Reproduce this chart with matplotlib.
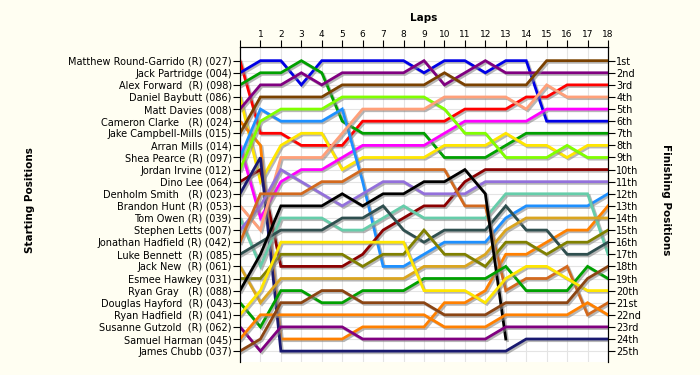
import numpy as np
import matplotlib
matplotlib.use("Agg")
import matplotlib.pyplot as plt
import matplotlib.patheffects as pe

laps = list(range(0, 19))

start_labels = [
    "Matthew Round-Garrido (R) (027)", "Jack Partridge (004)", "Alex Forward  (R) (098)",
    "Daniel Baybutt (086)", "Matt Davies (008)", "Cameron Clarke   (R) (024)",
    "Jake Campbell-Mills (015)", "Arran Mills (014)", "Shea Pearce (R) (097)",
    "Jordan Irvine (012)", "Dino Lee (064)", "Denholm Smith   (R) (023)",
    "Brandon Hunt (R) (053)", "Tom Owen (R) (039)", "Stephen Letts (007)",
    "Jonathan Hadfield (R) (042)", "Luke Bennett  (R) (085)", "Jack New  (R) (061)",
    "Esmee Hawkey (031)", "Ryan Gray   (R) (088)", "Douglas Hayford  (R) (043)",
    "Ryan Hadfield  (R) (041)", "Susanne Gutzold  (R) (062)", "Samuel Harman (045)",
    "James Chubb (037)",
]
finish_labels = ["1st", "2nd", "3rd"] + [f"{i}th" for i in range(4, 21)] + \
    ["21st", "22nd", "23rd", "24th", "25th"]

# position per lap (lap 0 = start), one list per car
red = [1, 7, 7, 8, 8, 8, 6, 6, 6, 6, 6, 5, 5, 5, 4, 4, 3, 3, 3]
blue = [2, 1, 1, 3, 1, 1, 1, 1, 1, 2, 1, 1, 2, 1, 1, 6, 6, 6, 6]
green = [3, 2, 2, 1, 2, 6, 7, 7, 7, 7, 9, 9, 9, 8, 7, 7, 7, 7, 7]
yellow = [4, 11, 8, 7, 7, 10, 9, 9, 9, 9, 8, 8, 8, 7, 8, 8, 9, 8, 8]
purple = [5, 3, 3, 2, 3, 2, 2, 2, 2, 1, 3, 2, 1, 2, 2, 2, 2, 2, 2]
orange = [6, 8, 24, 24, 24, 24, 23, 23, 23, 23, 21, 21, 20, 17, 17, 16, 15, 15, 13]
brown = [7, 4, 4, 4, 4, 3, 3, 3, 3, 3, 2, 3, 3, 3, 3, 1, 1, 1, 1]
magenta = [8, 14, 11, 10, 10, 9, 8, 8, 8, 8, 7, 6, 6, 6, 6, 5, 5, 5, 5]
dodger = [9, 5, 6, 6, 6, 5, 11, 18, 18, 17, 16, 16, 16, 14, 13, 13, 13, 13, 12]
lime = [10, 6, 5, 5, 5, 4, 4, 4, 4, 4, 5, 7, 7, 9, 9, 9, 8, 9, 9]
maroon = [11, 10, 18, 18, 18, 18, 17, 15, 14, 13, 13, 11, 10, 10, 10, 10, 10, 10, 10]
navy = [12, 9, 25, 25, 25, 25, 25, 25, 25, 25, 25, 25, 25, 25, 24, 24, 24, 24, 24]
salmon = [13, 15, 9, 9, 9, 7, 5, 5, 5, 5, 4, 4, 4, 4, 5, 3, 4, 4, 4]
aqua = [14, 18, 14, 14, 14, 15, 15, 14, 13, 14, 14, 14, 14, 12, 12, 12, 12, 12, 17]
lavender = [15, 13, 10, 11, 12, 13, 12, 11, 11, 12, 12, 12, 11, 11, 11, 11, 11, 11, 11]
choc = [16, 12, 12, 12, 11, 11, 10, 10, 10, 10, 10, 13, 13, 20, 19, 19, 18, 22, 21]
slate = [17, 16, 15, 15, 15, 14, 14, 13, 15, 16, 15, 15, 15, 13, 15, 15, 17, 17, 16]
golden = [18, 21, 19, 19, 19, 19, 19, 19, 19, 18, 18, 18, 17, 15, 14, 14, 14, 14, 14]
olive = [19, 19, 17, 17, 17, 17, 18, 17, 17, 15, 17, 17, 18, 16, 16, 17, 16, 16, 15]
black = [20, 17, 13, 13, 13, 12, 13, 12, 12, 11, 11, 10, 12, 24]
green2 = [21, 23, 20, 20, 21, 21, 20, 20, 20, 19, 19, 19, 19, 18, 20, 20, 20, 18, 19]
yellow2 = [22, 20, 16, 16, 16, 16, 16, 16, 16, 20, 20, 20, 21, 19, 18, 18, 19, 20, 20]
purple2 = [23, 25, 23, 23, 23, 23, 24, 24, 24, 24, 24, 24, 24, 23, 23, 23, 23, 23, 23]
orange2 = [24, 22, 22, 22, 22, 22, 22, 22, 22, 22, 23, 23, 23, 22, 22, 22, 22, 21, 22]
brown2 = [25, 24, 21, 21, 20, 20, 21, 21, 21, 21, 22, 22, 22, 21, 21, 21, 21, 19, 18]

series = [
    (red, "#FF0000"), (blue, "#0000E6"), (green, "#00A000"), (yellow, "#FFE600"),
    (purple, "#800080"), (orange, "#FF8000"), (brown, "#7A4100"), (magenta, "#FF00FF"),
    (dodger, "#1E90FF"), (lime, "#80FF00"), (maroon, "#8B0000"), (navy, "#191970"),
    (salmon, "#FFA07A"), (aqua, "#66CDAA"), (lavender, "#9370DB"), (choc, "#D2691E"),
    (slate, "#2F4F4F"), (golden, "#DAA520"), (olive, "#808000"), (black, "#000000"),
    (green2, "#00A000"), (yellow2, "#FFE600"), (purple2, "#800080"), (orange2, "#FF8000"),
    (brown2, "#8B4513"),
]

bg = "#FFFEF2"
fig = plt.figure(figsize=(7, 3.75), dpi=100, facecolor=bg)
ax = fig.add_axes([240 / 700, 1 - 362 / 375, 368 / 700, 315 / 375])
ax.set_facecolor("white")

shadow = [pe.SimpleLineShadow(offset=(1.2, -1.2), shadow_color="#888888", alpha=0.6),
          pe.Normal()]
for pos, col in series:
    ax.plot(laps[:len(pos)], pos, color=col, lw=2.0, solid_joinstyle="miter",
            path_effects=shadow, zorder=3)

ax.set_xlim(0, 18)
ax.set_ylim(25.9, -0.13)

# grid
ax.set_xticks(laps)
ax.set_yticks(range(1, 26))
ax.grid(True, color="#E4E4E4", lw=0.8, zorder=0)

ax.xaxis.tick_top()
ax.set_xticklabels([""] + [str(i) for i in laps[1:]], fontsize=6.5)
ax.tick_params(axis="x", direction="out", length=5, pad=1, color="black")
ax.set_yticklabels(start_labels, fontsize=7)
ax.tick_params(axis="y", direction="out", length=5, pad=1, color="black")

ax2 = ax.twinx()
ax2.set_ylim(ax.get_ylim())
ax2.set_yticks(range(1, 26))
ax2.set_yticklabels(finish_labels, fontsize=7)
ax2.tick_params(axis="y", direction="out", length=5, pad=1)

for a in (ax, ax2):
    a.spines["bottom"].set_visible(False)

fig.text(424 / 700, 1 - 18 / 375, "Laps", ha="center", va="center",
         fontsize=7.5, fontweight="bold")
fig.text(30 / 700, 1 - 200 / 375, "Starting Positions", ha="center", va="center",
         rotation=90, fontsize=7.5, fontweight="bold")
fig.text(666 / 700, 1 - 200 / 375, "Finishing Positions", ha="center", va="center",
         rotation=270, fontsize=7.5, fontweight="bold")

fig.savefig("out.png", dpi=100, facecolor=bg)
